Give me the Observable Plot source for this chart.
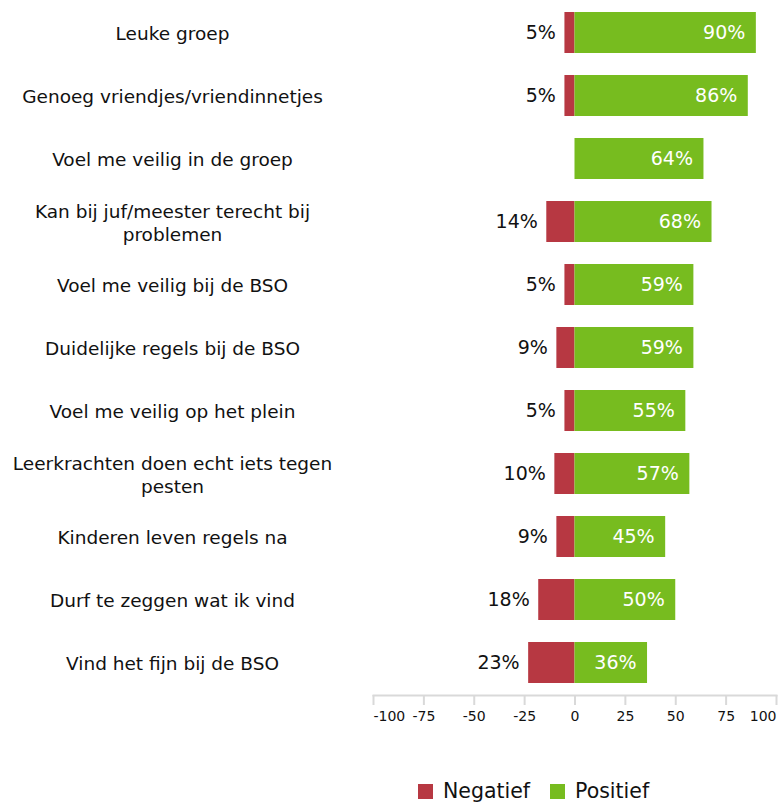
<!DOCTYPE html>
<html>
<head>
<meta charset="utf-8">
<script src="https://cdn.jsdelivr.net/npm/d3@7"></script>
<script src="https://cdn.jsdelivr.net/npm/@observablehq/plot@0.6"></script>
<style>
  html, body { margin: 0; padding: 0; background: #fff; }
  body { width: 784px; height: 805px; overflow: hidden; font-family: "DejaVu Sans", sans-serif; }
  #legend { position: relative; height: 45px; }
  .sw { position: absolute; top: 24px; width: 15px; height: 15px; }
  .lt { position: absolute; top: 19px; font-size: 20.5px; color: #111; line-height: 24px; }
</style>
</head>
<body>
<div id="chart"></div>
<div id="legend"></div>
<script>
const categories = [
  "Leuke groep",
  "Genoeg vriendjes/vriendinnetjes",
  "Voel me veilig in de groep",
  "Kan bij juf/meester terecht bij problemen",
  "Voel me veilig bij de BSO",
  "Duidelijke regels bij de BSO",
  "Voel me veilig op het plein",
  "Leerkrachten doen echt iets tegen pesten",
  "Kinderen leven regels na",
  "Durf te zeggen wat ik vind",
  "Vind het fijn bij de BSO"
];
const negatief = [5, 5, 0, 14, 5, 9, 5, 10, 9, 18, 23];
const positief = [90, 86, 64, 68, 59, 59, 55, 57, 45, 50, 36];
const xTicks = [-100, -75, -50, -25, 0, 25, 50, 75, 100];
const seriesNames = ["Negatief", "Positief"];
const seriesColors = ["#b73842", "#77bc1f"];

const data = categories.map((c, i) => ({label: c, neg: negatief[i], pos: positief[i]}));
const tickFirst = xTicks.slice(0, 1);
const tickMid = xTicks.slice(1, -1);
const tickLast = xTicks.slice(-1);
const tickText = {x: d => d, text: d => String(d), frameAnchor: "bottom", dy: 25.5, fontSize: 14, fill: "#111"};

const chart = Plot.plot({
  width: 784,
  height: 760,
  marginLeft: 373,
  marginRight: 8,
  marginTop: 0,
  marginBottom: 65,
  style: {fontFamily: "DejaVu Sans, sans-serif", background: "#fff", color: "#111"},
  x: {domain: [-100, 100], axis: null},
  y: {domain: categories, paddingInner: 0.355, paddingOuter: 0.185, axis: null},
  marks: [
    Plot.barX(data.filter(d => d.neg > 0), {x1: d => -d.neg, x2: 0, y: "label", fill: seriesColors[0]}),
    Plot.barX(data, {x1: 0, x2: "pos", y: "label", fill: seriesColors[1]}),
    Plot.text(data.filter(d => d.neg > 0), {x: d => -d.neg, y: "label", text: d => d.neg + "%", textAnchor: "end", dx: -9, fontSize: 19, fill: "#111"}),
    Plot.text(data, {x: "pos", y: "label", text: d => d.pos + "%", textAnchor: "end", dx: -11, fontSize: 19, fill: "#fff"}),
    Plot.text(data, {y: "label", text: "label", frameAnchor: "left", dx: -201, textAnchor: "middle", lineWidth: 17.2, lineHeight: 1.25, fontSize: 18.5, fill: "#111"}),
    Plot.frame({anchor: "bottom", stroke: "#d9d9d9", strokeWidth: 2}),
    Plot.axisX({ticks: xTicks, tickSize: 10, stroke: "#d9d9d9", strokeWidth: 2, text: null, label: null}),
    Plot.text(tickFirst, {...tickText, textAnchor: "start"}),
    Plot.text(tickMid, {...tickText, textAnchor: "middle"}),
    Plot.text(tickLast, {...tickText, textAnchor: "end"})
  ]
});
document.getElementById("chart").appendChild(chart);

const legend = document.getElementById("legend");
const swX = [418, 550];
seriesNames.forEach((name, i) => {
  const sw = document.createElement("div");
  sw.className = "sw";
  sw.style.left = swX[i] + "px";
  sw.style.background = seriesColors[i];
  legend.appendChild(sw);
  const t = document.createElement("div");
  t.className = "lt";
  t.style.left = (swX[i] + 25) + "px";
  t.textContent = name;
  legend.appendChild(t);
});
</script>
</body>
</html>
